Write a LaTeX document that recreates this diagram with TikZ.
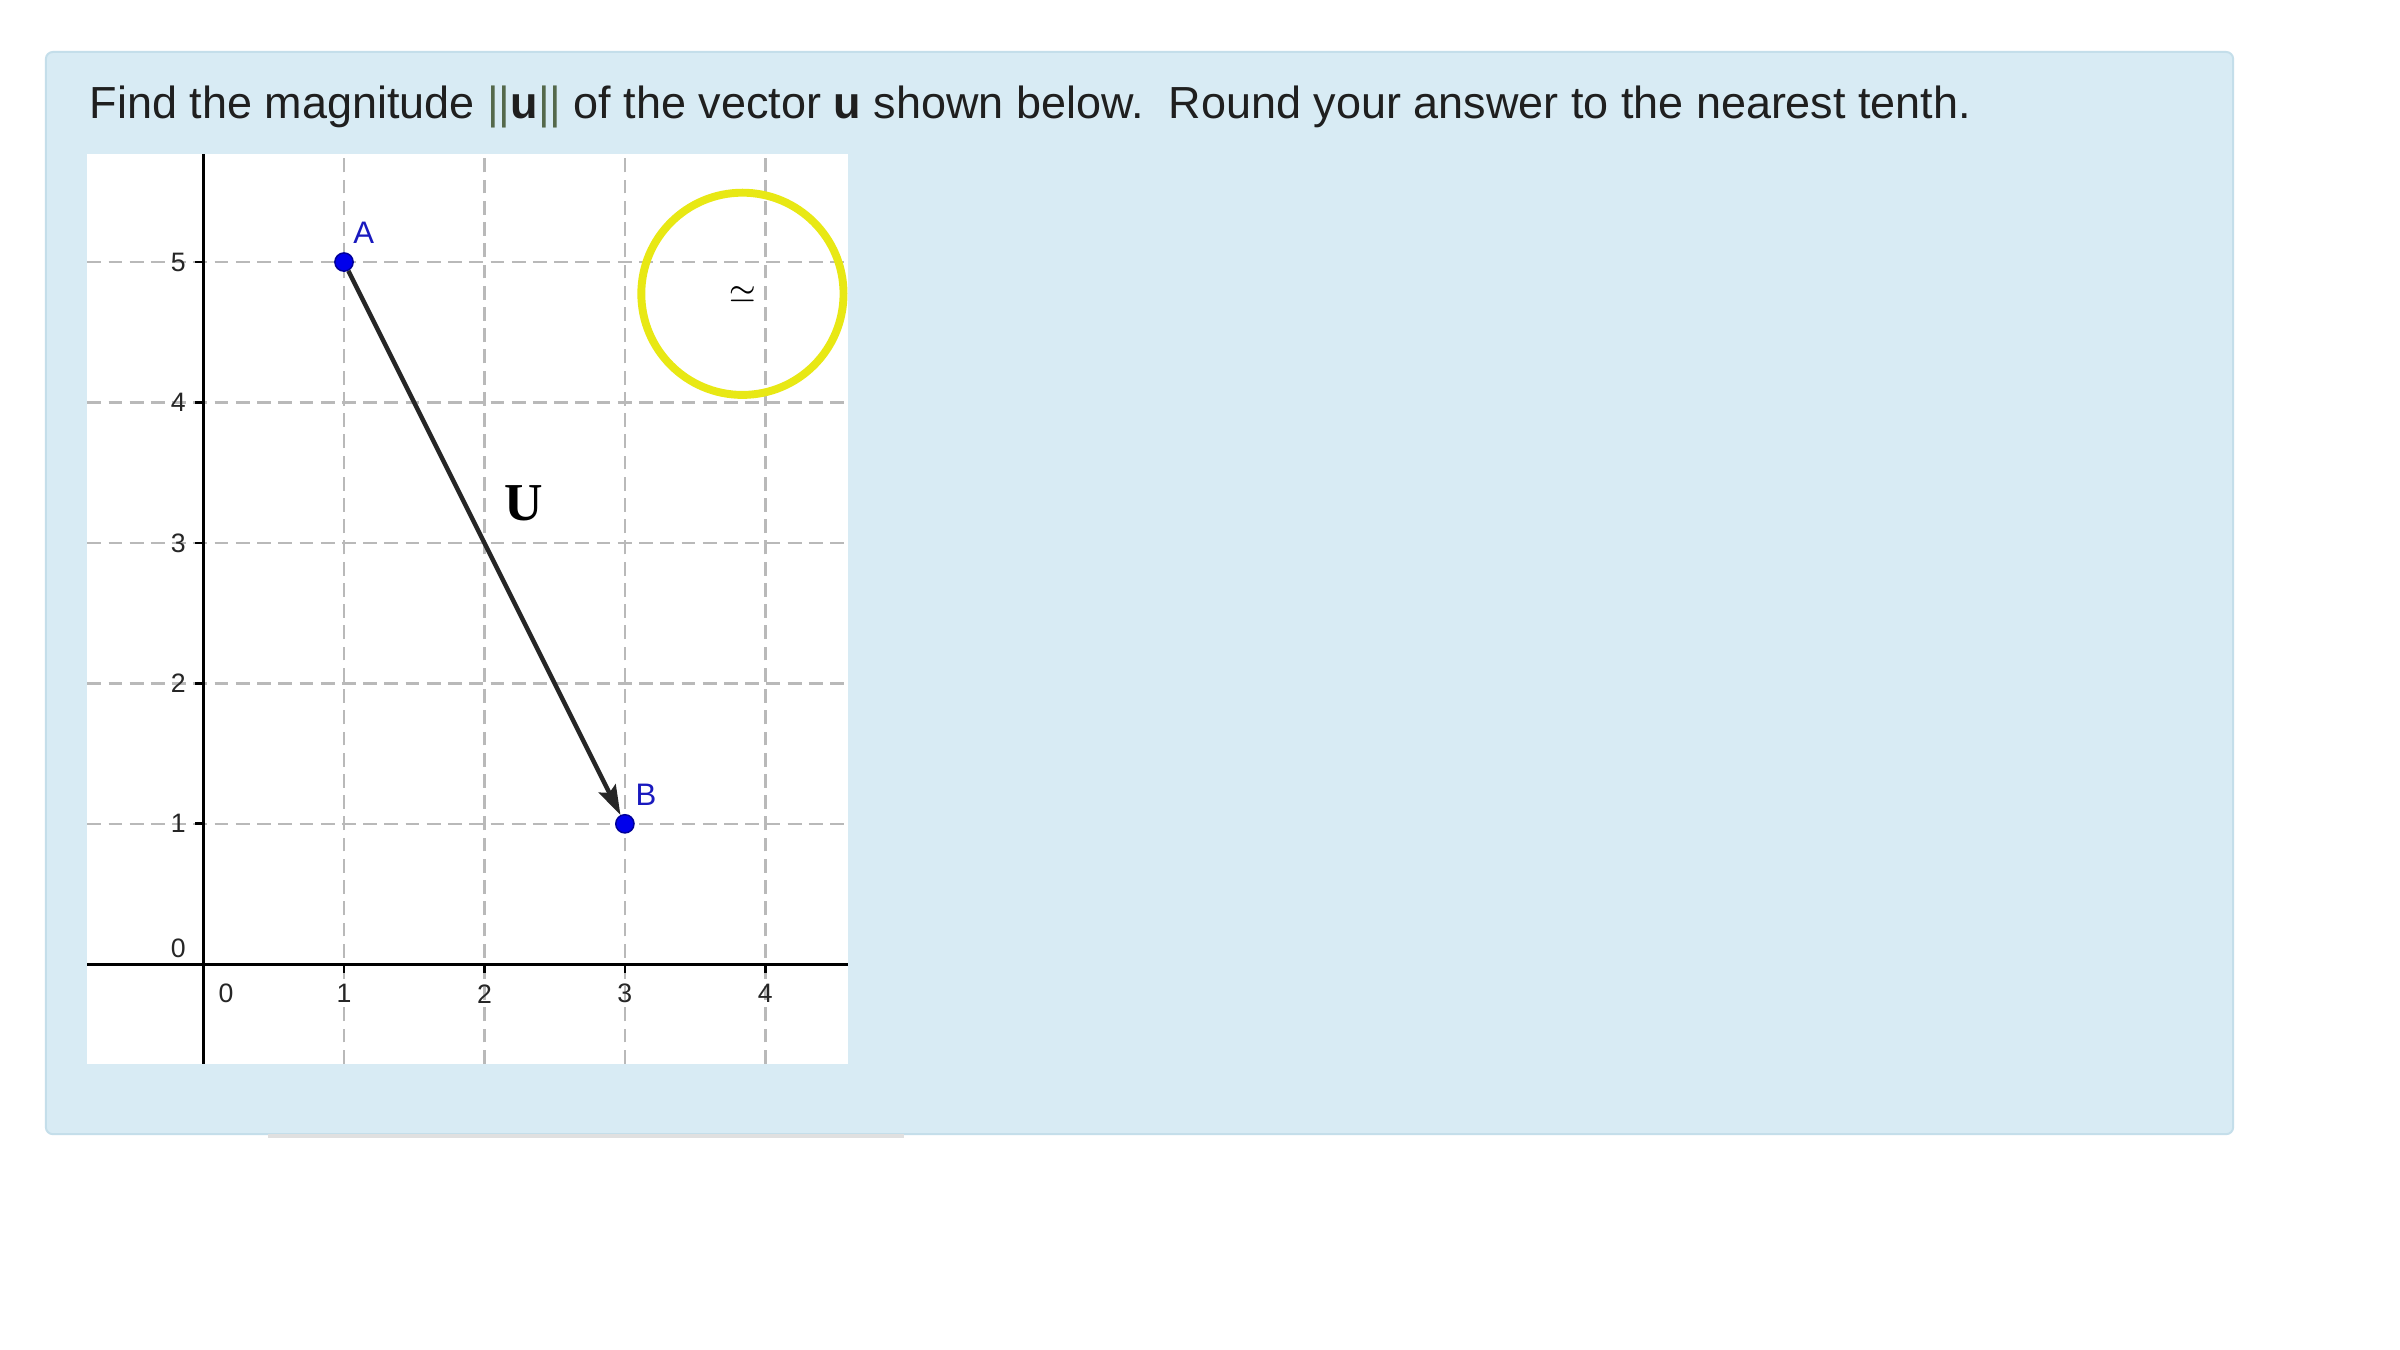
\documentclass[tikz,border=0pt]{standalone}
\usepackage{fontspec}
\setmainfont{Liberation Sans}
\newfontfamily\vecfont{Liberation Serif}
\usetikzlibrary{arrows.meta}
\definecolor{panelblue}{RGB}{216,235,244}
\definecolor{paneledge}{RGB}{196,222,234}
\definecolor{gridgray}{RGB}{185,185,185}
\definecolor{ptblue}{RGB}{0,0,235}
\definecolor{lblblue}{RGB}{25,25,190}
\definecolor{ringyellow}{RGB}{232,232,20}
\definecolor{bargreen}{RGB}{85,105,75}
\tikzset{
  gridline/.style={gridgray,line width=0.5pt,dash pattern=on 2.8pt off 1.5pt},
  axisline/.style={black,line width=0.55pt},
  numlbl/.style={inner sep=0pt,text=black!85,font=\fontsize{5.4}{6}\selectfont},
  ptlbl/.style={inner sep=0pt,text=lblblue,font=\fontsize{6.3}{7}\selectfont},
  pt/.style={circle,inner sep=0pt,minimum size=0.13cm,fill=ptblue,draw=blue!60!black,line width=0.3pt},
  vec/.style={black!85,line width=0.9pt,-{Stealth[length=6pt,width=3.8pt,inset=1pt]}},
  ring/.style={circle,draw=ringyellow,line width=1.6pt,minimum size=1.44cm,inner sep=0pt}
}
\begin{document}
\begin{tikzpicture}
\useasboundingbox (-1.4496,-2.740) rectangle (15.640,6.866);
\fill[white] (-1.4496,-2.740) rectangle (15.640,6.866);
\draw[paneledge,fill=panelblue,rounded corners=0.05cm] (-1.123,-1.21) rectangle (14.452,6.496);
\draw[black!12,line width=0.8pt] (0.458,-1.222) -- (4.99,-1.222);
\fill[white] (-0.828,-0.708) rectangle (4.589,5.771);
\node[anchor=base west,inner sep=0pt,text=black!88,font=\fontsize{9.11}{11}\selectfont] (title) at (-0.817,6.024)
  {\frenchspacing Find the magnitude {\color{bargreen}||}\textbf{u}{\color{bargreen}||} of the vector \textbf{u} shown below.~ Round your answer to the nearest tenth.};
\foreach \x in {1,...,4} \draw[gridline] (\x,-0.708) -- (\x,5.771);
\foreach \y in {1,...,5} \draw[gridline] (-0.828,\y) -- (4.589,\y);
\draw[axisline] (-0.828,0) -- (4.589,0);
\draw[axisline] (0,-0.708) -- (0,5.771);
\foreach \x in {1,...,4} {
  \draw[axisline] (\x,0) -- (\x,-0.06);
  \node[numlbl] (x\x) at (\x,-0.21) {\x};
}
\foreach \y in {1,...,5} {
  \draw[axisline] (-0.06,\y) -- (0,\y);
  \node[numlbl] (y\y) at (-0.18,\y) {\y};
}
\node[numlbl] (x0) at (0.16,-0.21) {0};
\node[numlbl] (y0) at (-0.18,0.11) {0};
\node[pt] (A) at (1,5) {};
\node[pt] (B) at (3,1) {};
\draw[vec] (A) -- (B);
\node[ptlbl] (Albl) at (1.14,5.21) {A};
\node[ptlbl] (Blbl) at (3.15,1.21) {B};
\node[inner sep=0pt,font=\vecfont\bfseries\fontsize{10.8}{12}\selectfont] (ulbl) at (2.28,3.28) {U};
\node[ring] (cursor) at (3.837,4.774) {\fontsize{6}{6}\selectfont$\simeq$};
\end{tikzpicture}
\end{document}
